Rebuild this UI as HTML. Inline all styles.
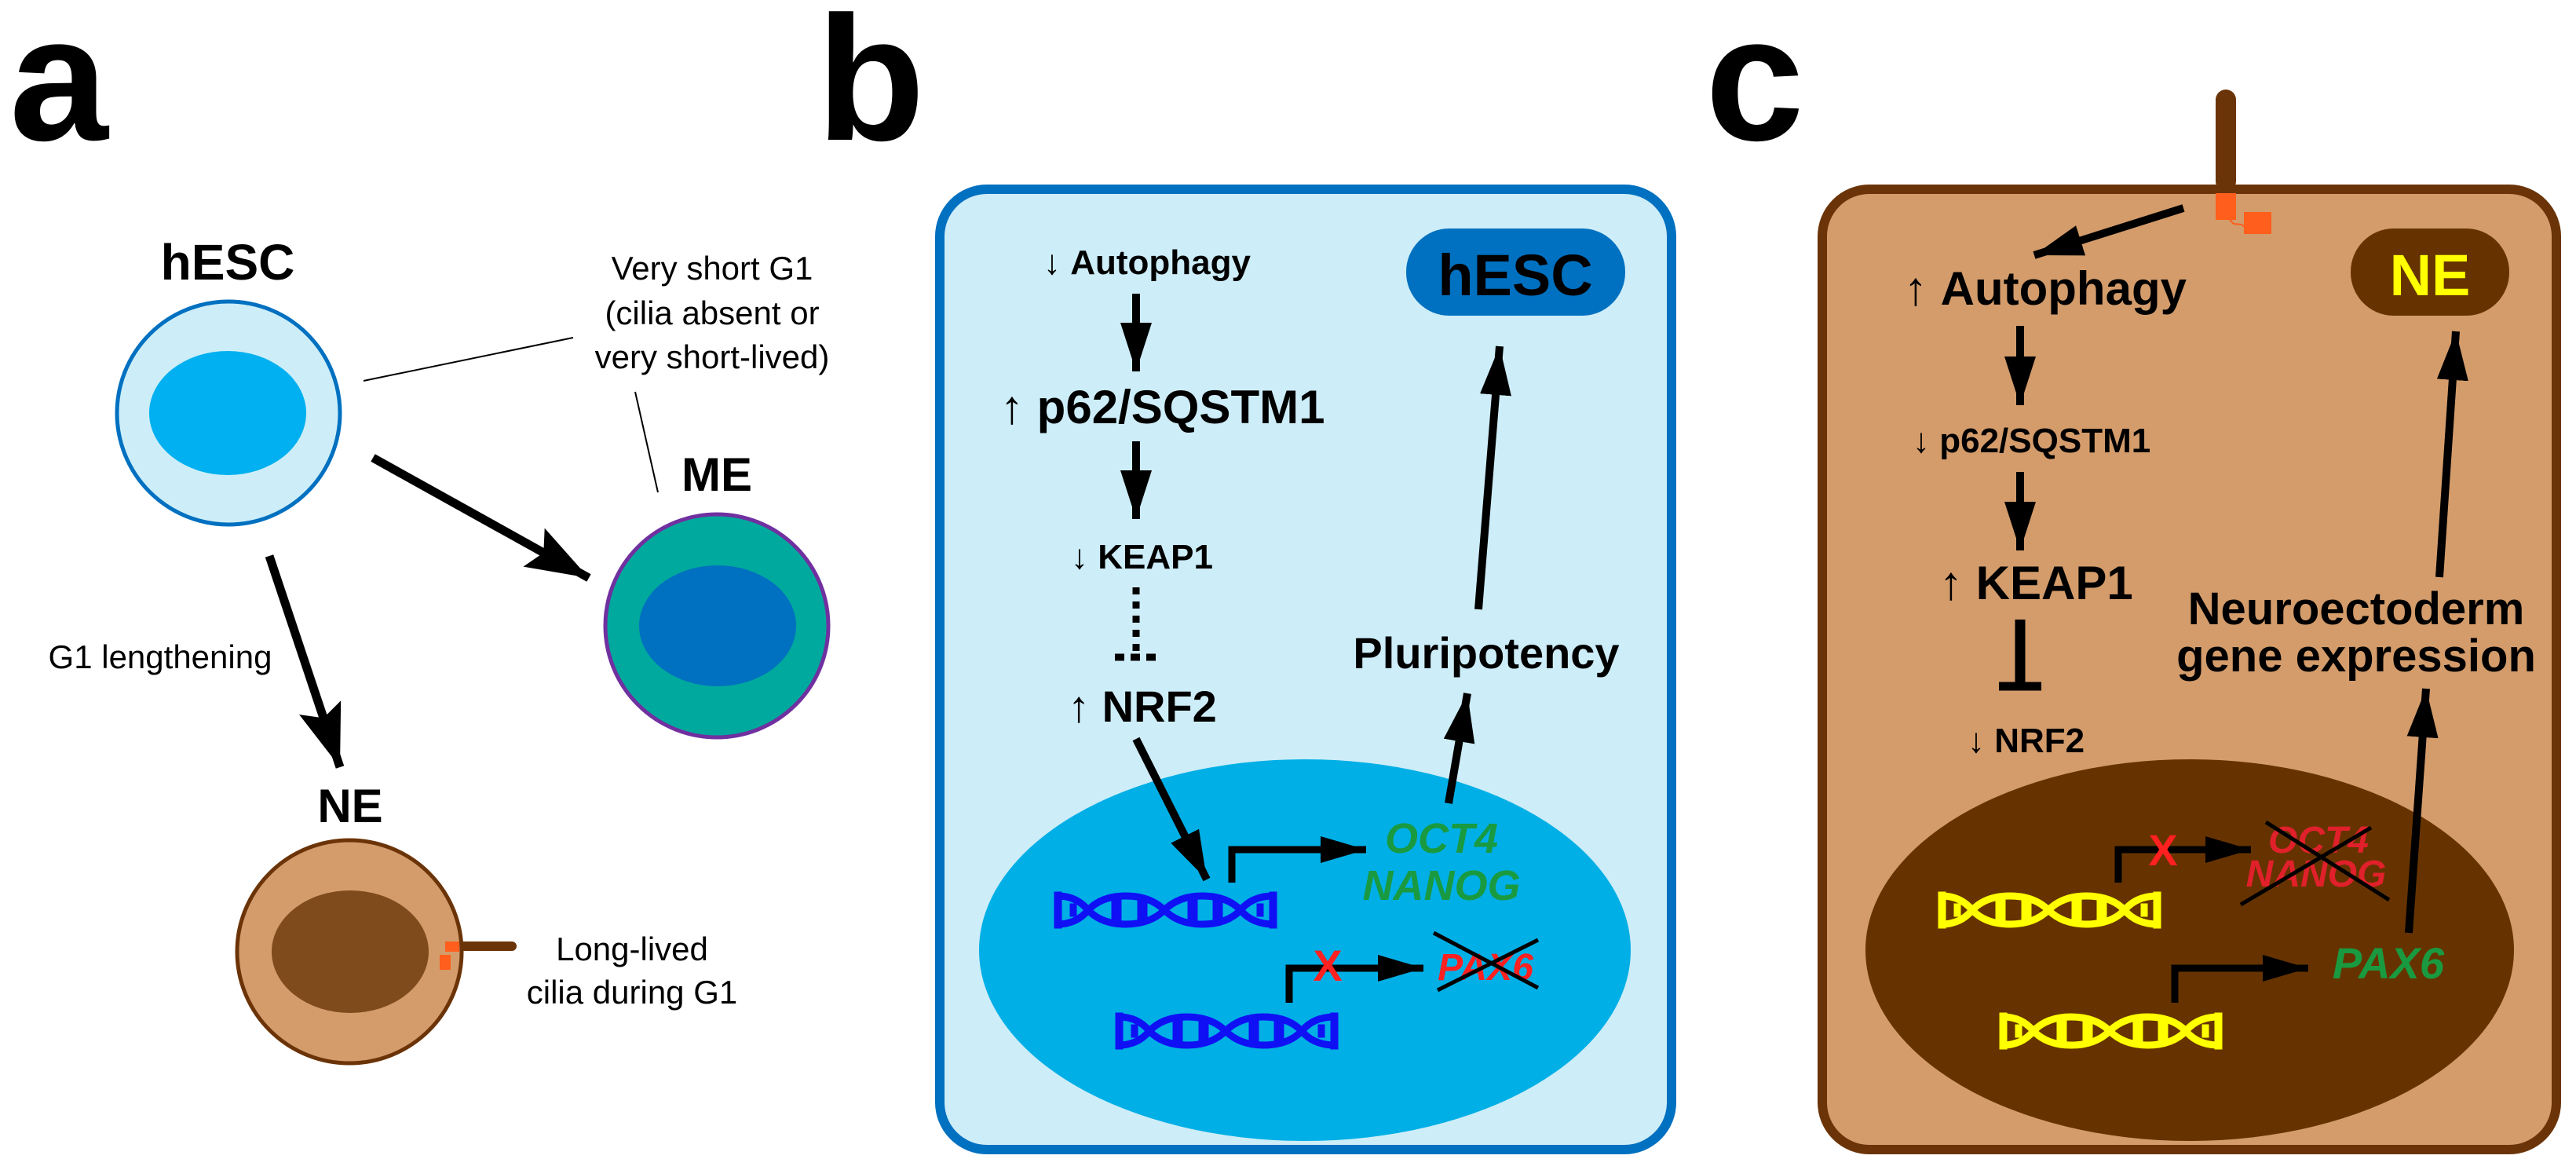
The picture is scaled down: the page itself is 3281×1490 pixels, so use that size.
<!DOCTYPE html>
<html><head><meta charset="utf-8"><style>
html,body{margin:0;padding:0;background:#fff;}
svg{display:block;font-family:"Liberation Sans",Arial,sans-serif;}
</style></head><body>
<svg width="3281" height="1490" viewBox="0 0 3281 1490" xmlns="http://www.w3.org/2000/svg">
<defs>
<marker id="ha" markerUnits="userSpaceOnUse" markerWidth="90" markerHeight="60" refX="80" refY="28" orient="auto"><path d="M0,0 L80,28 L0,56 L14,28 z" fill="#000"/></marker>
<marker id="hb" markerUnits="userSpaceOnUse" markerWidth="70" markerHeight="50" refX="62" refY="20" orient="auto"><path d="M0,0 L62,20 L0,40 z" fill="#000"/></marker>
<marker id="hc" markerUnits="userSpaceOnUse" markerWidth="70" markerHeight="40" refX="58" refY="17" orient="auto"><path d="M0,0 L58,17 L0,34 z" fill="#000"/></marker>
<g id="dna">
<path d="M4,8 Q28,8 43,26 Q60,8 91,8 Q122,8 140,26 Q158,8 188,8 Q220,8 237,26 Q252,8 279,8 M4,44 Q28,44 43,26 Q60,44 91,44 Q122,44 140,26 Q158,44 188,44 Q220,44 237,26 Q252,44 279,44" fill="none" stroke-width="9"/>
<rect x="0" y="3" width="9" height="46"/><rect x="274" y="3" width="9" height="46"/>
<rect x="73" y="10" width="12" height="32"/><rect x="106" y="10" width="12" height="32"/>
<rect x="170" y="10" width="12" height="32"/><rect x="202" y="10" width="12" height="32"/>
<rect x="20" y="18" width="8" height="16"/><rect x="258" y="18" width="8" height="16"/>
</g>
</defs>

<!-- labels -->
<text x="12" y="178" font-size="226" font-weight="bold">a</text>
<text x="1040" y="178" font-size="226" font-weight="bold">b</text>
<text x="2172" y="178" font-size="226" font-weight="bold">c</text>

<!-- PANEL A -->
<text x="290" y="356" font-size="64" font-weight="bold" text-anchor="middle">hESC</text>
<ellipse cx="291" cy="526" rx="142" ry="142" fill="#cdeef8" stroke="#0070c0" stroke-width="5"/>
<ellipse cx="290" cy="526" rx="100" ry="79" fill="#00b0f0"/>
<line x1="463" y1="485" x2="730" y2="430" stroke="#000" stroke-width="2"/>
<line x1="809" y1="499" x2="838" y2="627" stroke="#000" stroke-width="2"/>
<g font-size="42" text-anchor="middle">
<text x="907" y="356">Very short G1</text>
<text x="907" y="413">(cilia absent or</text>
<text x="907" y="469">very short-lived)</text>
<text x="204" y="851">G1 lengthening</text>
<text x="805" y="1223">Long-lived</text>
<text x="805" y="1278">cilia during G1</text>
</g>
<text x="913" y="625" font-size="60" font-weight="bold" text-anchor="middle">ME</text>
<ellipse cx="913" cy="797" rx="142" ry="142" fill="#00a99d" stroke="#7030a0" stroke-width="5"/>
<ellipse cx="914" cy="797" rx="100" ry="77" fill="#0070c0"/>
<line x1="475" y1="583" x2="750" y2="736" stroke="#000" stroke-width="11" marker-end="url(#ha)"/>
<line x1="343" y1="708" x2="433" y2="977" stroke="#000" stroke-width="11" marker-end="url(#ha)"/>
<text x="446" y="1047" font-size="60" font-weight="bold" text-anchor="middle">NE</text>
<line x1="585" y1="1205" x2="652" y2="1205" stroke="#6b3408" stroke-width="12" stroke-linecap="round"/>
<ellipse cx="445" cy="1212" rx="143" ry="142" fill="#d49c6b" stroke="#6b3408" stroke-width="5"/>
<ellipse cx="446" cy="1212" rx="100" ry="78" fill="#7f4a1c"/>
<rect x="567" y="1199" width="18" height="13" fill="#ff5e1c"/>
<rect x="560" y="1216" width="14" height="19" fill="#ff5e1c"/>

<!-- PANEL B -->
<rect x="1197" y="241" width="932" height="1223" rx="60" fill="#cdedf8" stroke="#0070c0" stroke-width="12"/>
<ellipse cx="1662" cy="1210" rx="415" ry="243" fill="#00afe6"/>
<text x="1329" y="349" font-size="44" font-weight="bold"><tspan font-weight="normal">↓ </tspan>Autophagy</text>
<line x1="1447" y1="374" x2="1447" y2="473" stroke="#000" stroke-width="10" marker-end="url(#hb)"/>
<text x="1274" y="539" font-size="60" font-weight="bold"><tspan font-weight="normal">↑ </tspan>p62/SQSTM1</text>
<line x1="1447" y1="562" x2="1447" y2="661" stroke="#000" stroke-width="10" marker-end="url(#hb)"/>
<text x="1364" y="724" font-size="44" font-weight="bold"><tspan font-weight="normal">↓ </tspan>KEAP1</text>
<line x1="1447" y1="748" x2="1447" y2="832" stroke="#000" stroke-width="9" stroke-dasharray="9,9"/>
<line x1="1420" y1="837" x2="1473" y2="837" stroke="#000" stroke-width="9" stroke-dasharray="12,8"/>
<text x="1360" y="919" font-size="56" font-weight="bold"><tspan font-weight="normal">↑ </tspan>NRF2</text>
<line x1="1447" y1="941" x2="1537" y2="1120" stroke="#000" stroke-width="10" marker-end="url(#hb)"/>
<g fill="#1010f5" stroke="#1010f5"><use href="#dna" x="1343" y="1133"/><use href="#dna" x="1421" y="1287"/></g>
<polyline points="1569,1124 1569,1082 1740,1082" fill="none" stroke="#000" stroke-width="9" marker-end="url(#hc)"/>
<polyline points="1642,1277 1642,1233 1813,1233" fill="none" stroke="#000" stroke-width="9" marker-end="url(#hc)"/>
<text x="1691" y="1249" font-size="56" font-weight="bold" fill="#ff2020" text-anchor="middle">X</text>
<g font-size="54" font-weight="bold" font-style="italic" text-anchor="middle">
<text x="1836" y="1086" fill="#1a9a40">OCT4</text>
<text x="1836" y="1146" fill="#1a9a40">NANOG</text>
<text x="1892" y="1248" fill="#ff2020" font-size="48">PAX6</text>
</g>
<line x1="1826" y1="1188" x2="1959" y2="1258" stroke="#000" stroke-width="5"/>
<line x1="1831" y1="1261" x2="1959" y2="1197" stroke="#000" stroke-width="5"/>
<line x1="1845" y1="1023" x2="1869" y2="883" stroke="#000" stroke-width="10" marker-end="url(#hb)"/>
<text x="1893" y="851" font-size="56" font-weight="bold" text-anchor="middle">Pluripotency</text>
<line x1="1883" y1="776" x2="1910" y2="441" stroke="#000" stroke-width="10" marker-end="url(#hb)"/>
<rect x="1791" y="291" width="279" height="111" rx="55" fill="#0070c0"/>
<text x="1930" y="376" font-size="74" font-weight="bold" text-anchor="middle">hESC</text>

<!-- PANEL C -->
<rect x="2822" y="114" width="26" height="130" rx="13" fill="#6b3408"/>
<rect x="2321" y="241" width="935" height="1223" rx="60" fill="#d49c6b" stroke="#6b3408" stroke-width="12"/>
<rect x="2822" y="246" width="26" height="34" fill="#ff5e1c"/>
<rect x="2858" y="270" width="35" height="28" fill="#ff5e1c"/>
<polyline points="2840,280 2845,285 2855,286 2860,290" fill="none" stroke="#ff5e1c" stroke-width="2"/>
<ellipse cx="2789" cy="1210" rx="413" ry="243" fill="#663300"/>
<line x1="2781" y1="265" x2="2591" y2="325" stroke="#000" stroke-width="10" marker-end="url(#hb)"/>
<text x="2425" y="388" font-size="60" font-weight="bold"><tspan font-weight="normal">↑ </tspan>Autophagy</text>
<line x1="2573" y1="415" x2="2573" y2="516" stroke="#000" stroke-width="10" marker-end="url(#hb)"/>
<text x="2436" y="576" font-size="44" font-weight="bold"><tspan font-weight="normal">↓ </tspan>p62/SQSTM1</text>
<line x1="2573" y1="601" x2="2573" y2="701" stroke="#000" stroke-width="10" marker-end="url(#hb)"/>
<text x="2470" y="763" font-size="60" font-weight="bold"><tspan font-weight="normal">↑ </tspan>KEAP1</text>
<line x1="2573" y1="789" x2="2573" y2="874" stroke="#000" stroke-width="13"/>
<line x1="2546" y1="874" x2="2600" y2="874" stroke="#000" stroke-width="11"/>
<text x="2506" y="958" font-size="44" font-weight="bold"><tspan font-weight="normal">↓ </tspan>NRF2</text>
<g fill="#ffff00" stroke="#ffff00"><use href="#dna" x="2469" y="1133"/><use href="#dna" x="2547" y="1287"/></g>
<polyline points="2698,1124 2698,1082 2867,1082" fill="none" stroke="#000" stroke-width="9" marker-end="url(#hc)"/>
<polyline points="2770,1277 2770,1233 2940,1233" fill="none" stroke="#000" stroke-width="9" marker-end="url(#hc)"/>
<text x="2755" y="1102" font-size="56" font-weight="bold" fill="#ff2020" text-anchor="middle">X</text>
<g font-size="48" font-weight="bold" font-style="italic" text-anchor="middle" fill="#e0202a">
<text x="2953" y="1086">OCT4</text>
<text x="2950" y="1129">NANOG</text>
</g>
<line x1="2886" y1="1047" x2="3043" y2="1146" stroke="#000" stroke-width="5"/>
<line x1="2854" y1="1152" x2="3020" y2="1054" stroke="#000" stroke-width="5"/>
<text x="3042" y="1246" font-size="56" font-weight="bold" font-style="italic" fill="#1a9a40" text-anchor="middle">PAX6</text>
<line x1="3068" y1="1188" x2="3090" y2="877" stroke="#000" stroke-width="10" marker-end="url(#hb)"/>
<text x="3001" y="795" font-size="58" font-weight="bold" text-anchor="middle">Neuroectoderm</text>
<text x="3001" y="855" font-size="58" font-weight="bold" text-anchor="middle">gene expression</text>
<line x1="3107" y1="735" x2="3128" y2="422" stroke="#000" stroke-width="10" marker-end="url(#hb)"/>
<rect x="2994" y="291" width="202" height="111" rx="55" fill="#663300"/>
<text x="3095" y="376" font-size="74" font-weight="bold" fill="#ffff00" text-anchor="middle">NE</text>
</svg>
</body></html>
